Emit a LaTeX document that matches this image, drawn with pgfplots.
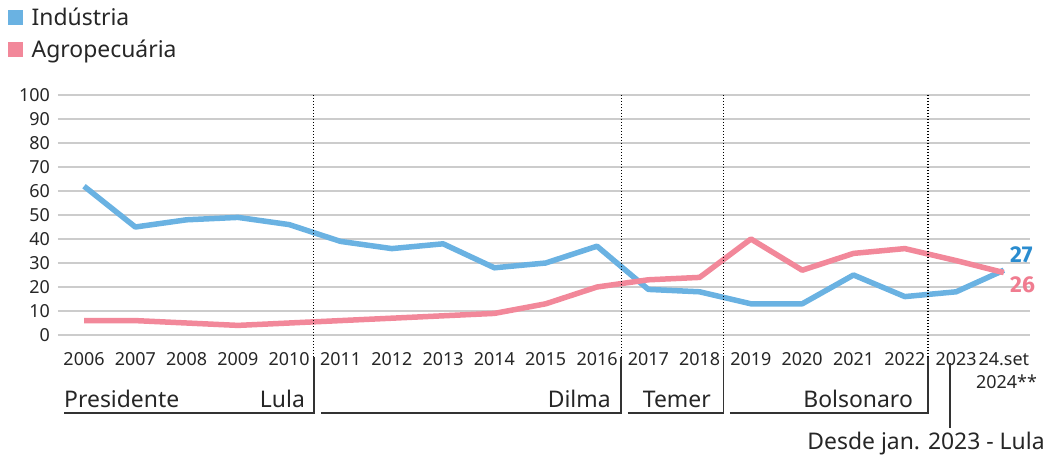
\documentclass[border=0pt]{standalone}
\usepackage{pgfplots}
\pgfplotsset{compat=1.18}
\usepackage{fontspec}
\setmainfont{Noto Sans}
\newfontfamily\numf{Fira Sans}
\definecolor{ind}{HTML}{6AB2E2}
\definecolor{agro}{HTML}{F2889A}
\definecolor{indlab}{HTML}{2A8CCF}
\definecolor{agrolab}{HTML}{F07C90}
\definecolor{gridc}{HTML}{CCCCCC}
\begin{document}
\begin{tikzpicture}
\path[use as bounding box] (0,0) rectangle (1048bp,455bp);
\begin{axis}[
  at={(58bp,120bp)}, anchor=south west,
  scale only axis, width=972bp, height=240bp,
  xmin=-0.507, xmax=18.44, ymin=0, ymax=100,
  axis line style={draw=none},
  ymajorgrids, grid style={gridc, line width=2.4bp},
  ytick={0,10,...,100},
  xtick={0,1,...,17,17.93},
  xticklabels={2006,2007,2008,2009,2010,2011,2012,2013,2014,2015,2016,2017,2018,2019,2020,2021,2022,2023,24.set},
  major tick length=0pt,
  /pgf/number format/assume math mode=true,
  yticklabel style={font=\fontsize{18}{20}\selectfont, anchor=east, inner sep=0pt, xshift=-8bp, text=black!85},
  xticklabel style={font=\fontsize{18}{20}\selectfont, anchor=base, inner sep=0pt, yshift=-30bp, text=black!85},
  clip=false,
  legend style={at={(-0.052,1.372)}, anchor=north west, draw=none, fill=none, inner sep=0pt,
    font=\fontsize{23}{26}\selectfont, row sep=9bp, text=black!85},
  legend cell align=left,
  legend image code/.code={\fill[#1, draw=none] (0bp,-7.5bp) rectangle (15bp,7.5bp); \path[draw=none] (0bp,0bp) -- (22bp,0bp);},
]
\addplot[ind, line width=5.5bp, line join=round] coordinates {
(0,62) (1,45) (2,48) (3,49) (4,46) (5,39) (6,36) (7,38) (8,28) (9,30) (10,37) (11,19) (12,18) (13,13) (14,13) (15,25) (16,16) (17,18) (17.93,27)};
\addlegendentry{Indústria}
\addplot[agro, line width=5.5bp, line join=round] coordinates {
(0,6) (1,6) (2,5) (3,4) (4,5) (5,6) (6,7) (7,8) (8,9) (9,13) (10,20) (11,23) (12,24) (13,40) (14,27) (15,34) (16,36) (17,31) (17.93,26)};
\addlegendentry{Agropecuária}
% dividers
\draw[black, line width=1.2bp, dash pattern=on 1.5bp off 1.5bp] (axis cs:4.48,100) -- (axis cs:4.48,-9.17);
\draw[black, line width=1.2bp, dash pattern=on 1.5bp off 1.5bp] (axis cs:10.47,100) -- (axis cs:10.47,-9.17);
\draw[black, line width=1.2bp, dash pattern=on 1.5bp off 1.5bp] (axis cs:12.46,100) -- (axis cs:12.46,-9.17);
\draw[black, line width=1.2bp, dash pattern=on 1.5bp off 1.5bp] (axis cs:16.45,100) -- (axis cs:16.45,-9.17);
% brackets
\draw[black!80, line width=1.4bp] (axis cs:-0.39,-32.5) -- (axis cs:4.48,-32.5) -- (axis cs:4.48,-9.17);
\draw[black!80, line width=1.4bp] (axis cs:4.62,-32.5) -- (axis cs:10.47,-32.5) -- (axis cs:10.47,-9.17);
\draw[black!80, line width=1.4bp] (axis cs:10.6,-32.5) -- (axis cs:12.46,-32.5) -- (axis cs:12.46,-9.17);
\draw[black!80, line width=1.4bp] (axis cs:12.59,-32.5) -- (axis cs:16.45,-32.5) -- (axis cs:16.45,-9.17);
\draw[black!80, line width=1.4bp] (axis cs:16.88,-11.7) -- (axis cs:16.88,-38.75);
\node[anchor=base west, font=\fontsize{23}{26}\selectfont, inner sep=0pt, text=black!85] at (axis cs:-0.39,-30.4) {Presidente};
\node[anchor=base east, font=\fontsize{23}{26}\selectfont, inner sep=0pt, text=black!85] at (axis cs:4.31,-30.4) {Lula};
\node[anchor=base east, font=\fontsize{23}{26}\selectfont, inner sep=0pt, text=black!85] at (axis cs:10.27,-30.4) {Dilma};
\node[anchor=base east, font=\fontsize{23}{26}\selectfont, inner sep=0pt, text=black!85] at (axis cs:12.22,-30.4) {Temer};
\node[anchor=base east, font=\fontsize{23}{26}\selectfont, inner sep=0pt, text=black!85] at (axis cs:16.16,-30.4) {Bolsonaro};
\node[anchor=base east, font=\fontsize{23}{26}\selectfont, inner sep=0pt, text=black!85] at (axis cs:18.73,-47.9) {Desde jan. 2023 - Lula};
\node[anchor=base east, inner sep=0pt, font=\fontsize{18}{20}\selectfont, text=black!85] at (axis cs:18.58,-22.1) {2024**};
\node[anchor=west, inner sep=0pt, font=\numf\fontsize{23}{25}\selectfont\bfseries, text=indlab] at (axis cs:18.05,33.3) {27};
\node[anchor=west, inner sep=0pt, font=\numf\fontsize{23}{25}\selectfont\bfseries, text=agrolab] at (axis cs:18.05,20.8) {26};
\end{axis}
\end{tikzpicture}
\end{document}
